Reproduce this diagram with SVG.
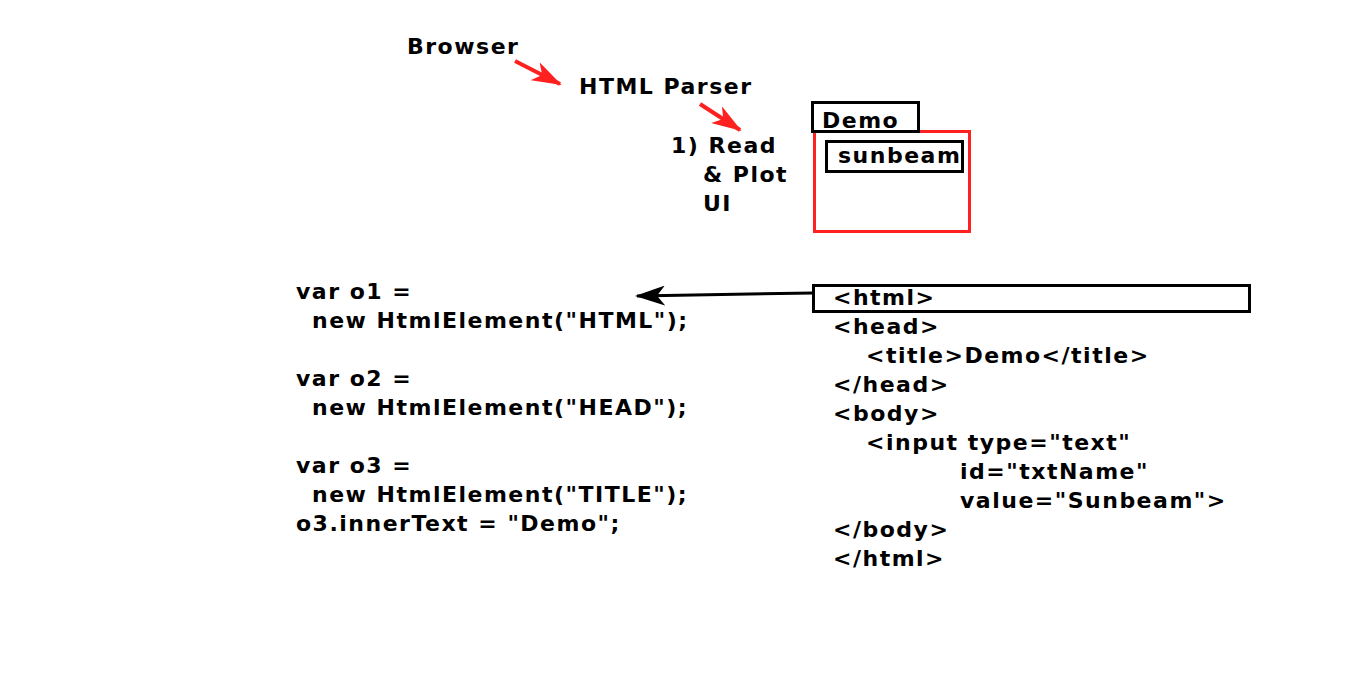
<svg xmlns="http://www.w3.org/2000/svg" width="1366" height="697" viewBox="0 0 1366 697">
<style>
text{font-family:"DejaVu Sans",Verdana,sans-serif;font-weight:bold;font-size:22px;letter-spacing:1.5px;fill:#000}
.box{fill:none;stroke:#000;stroke-width:3}
.red{fill:none;stroke:#ff2020;stroke-width:3}
</style>
<defs>
<marker id="ah" viewBox="0 0 30 20" refX="28" refY="10" markerWidth="30" markerHeight="20" markerUnits="userSpaceOnUse" orient="auto">
<path d="M0,0 L30,10 L0,20 L8,10 Z" fill="#000"/>
</marker>
<marker id="ahr" viewBox="0 0 30 20" refX="28" refY="10" markerWidth="30" markerHeight="20" markerUnits="userSpaceOnUse" orient="auto">
<path d="M0,0 L30,10 L0,20 L8,10 Z" fill="#ff2020"/>
</marker>
</defs>
<rect width="1366" height="697" fill="#fff"/>
<g id="browser"><text x="407" y="54">Browser</text></g>
<g id="parser"><text x="579" y="94">HTML Parser</text></g>
<g id="readplot"><text x="671" y="153">1) Read</text><text x="703" y="182">&amp; Plot</text><text x="703" y="211">UI</text></g>
<g id="window">
<rect class="red" x="814.5" y="131.5" width="155" height="100"/>
<rect class="box" x="812.5" y="102.5" width="106" height="29"/>
<text x="822" y="128">Demo</text>
<rect class="box" x="826.5" y="141.5" width="136" height="30"/>
<text x="838" y="163">sunbeam</text>
</g>
<g id="jscode">
<text x="296" y="299">var o1 =</text>
<text x="312" y="328">new HtmlElement("HTML");</text>
<text x="296" y="386">var o2 =</text>
<text x="312" y="415">new HtmlElement("HEAD");</text>
<text x="296" y="473">var o3 =</text>
<text x="312" y="502">new HtmlElement("TITLE");</text>
<text x="296" y="531">o3.innerText = "Demo";</text>
</g>
<g id="htmlcode">
<rect class="box" x="813.5" y="285.5" width="436" height="26"/>
<text x="833" y="305">&lt;html&gt;</text>
<text x="833" y="334">&lt;head&gt;</text>
<text x="866" y="363">&lt;title&gt;Demo&lt;/title&gt;</text>
<text x="833" y="392">&lt;/head&gt;</text>
<text x="833" y="421">&lt;body&gt;</text>
<text x="866" y="450">&lt;input type="text"</text>
<text x="960" y="479">id="txtName"</text>
<text x="960" y="508">value="Sunbeam"&gt;</text>
<text x="833" y="537">&lt;/body&gt;</text>
<text x="833" y="566">&lt;/html&gt;</text>
</g>
<g id="connectors">
<line x1="515" y1="61" x2="560" y2="84" stroke="#ff2020" stroke-width="4" marker-end="url(#ahr)"/>
<line x1="700" y1="104" x2="740" y2="130" stroke="#ff2020" stroke-width="4" marker-end="url(#ahr)"/>
<line x1="813" y1="293" x2="637" y2="296" stroke="#000" stroke-width="3" marker-end="url(#ah)"/>
</g>
</svg>
